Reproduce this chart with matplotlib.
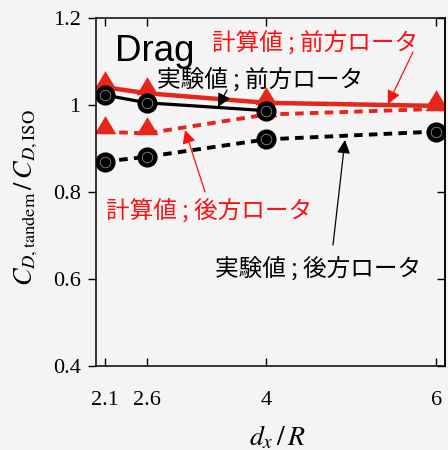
import matplotlib
matplotlib.use("Agg")
import matplotlib.pyplot as plt
from matplotlib.path import Path
import numpy as np

# ---- data ----
x_calc = [2.1, 2.6, 4, 6]
calc_front = [1.041, 1.027, 1.005, 0.998]
calc_rear = [0.938, 0.935, 0.978, 0.991]
x_exp_front = [2.1, 2.6, 4]
exp_front = [1.023, 1.005, 0.987]
x_exp_rear = [2.1, 2.6, 4, 6]
exp_rear = [0.870, 0.881, 0.921, 0.939]

xticks = [2.1, 2.6, 4, 6]
xticklabels = ["2.1", "2.6", "4", "6"]
yticks = [0.4, 0.6, 0.8, 1.0, 1.2]
yticklabels = ["0.4", "0.6", "0.8", "1", "1.2"]

lab_calc_front = "計算値 ; 前方ロータ"
lab_exp_front = "実験値 ; 前方ロータ"
lab_calc_rear = "計算値 ; 後方ロータ"
lab_exp_rear = "実験値 ; 後方ロータ"

plt.rcParams['mathtext.fontset'] = 'stix'
bg = '#f4f4f4'
red = '#e5261b'
red_txt = '#ff1010'

fig = plt.figure(figsize=(4.48, 4.5), dpi=100, facecolor=bg)
ax = fig.add_axes([96/448, 84/450, 349/448, 348/450])
ax.set_facecolor(bg)
ax.set_xlim(2.0, 6.1)
ax.set_ylim(0.4, 1.2)

# triangle marker with base near data point
tri = Path([(-10, -1.6), (10, -1.6), (0, 15), (-10, -1.6)],
           [Path.MOVETO, Path.LINETO, Path.LINETO, Path.CLOSEPOLY])
tri_ms = 23.5

ax.plot(x_calc, calc_front, color=red, lw=3.2, marker=tri, ms=tri_ms,
        mfc=red, mec=red, mew=0, zorder=2)
ax.plot(x_calc, calc_rear, color=red, lw=2.8, ls=(0, (2.2, 1.6)), marker=tri,
        ms=tri_ms, mfc=red, mec=red, mew=0, zorder=2)

circ_ms = 13.5
ax.plot(x_exp_front, exp_front, color='black', lw=2.3, marker='o', ms=circ_ms,
        mfc='black', mec='black', mew=1, zorder=3)
ax.plot(x_exp_rear, exp_rear, color='black', lw=2.8, ls=(0, (2.2, 1.6)),
        marker='o', ms=circ_ms, mfc='black', mec='black', mew=1, zorder=3)
for xs, ys in [(x_exp_front, exp_front), (x_exp_rear, exp_rear)]:
    ax.plot(xs, ys, ls='', marker='o', ms=7.6, mfc='none', mec='#8a8a8a',
            mew=0.6, zorder=4)

# ---- texts & arrows ----
ax.text(2.223, 1.101, "Drag", fontsize=26.5, family='Liberation Sans',
        ha='left', va='baseline', color='black', zorder=5)

jp = ['Noto Sans CJK JP', 'DejaVu Sans']
fs = 17
ax.text(4.573, 1.1437, lab_calc_front, fontsize=fs, family=jp, color=red_txt,
        ha='center', va='center', zorder=5)
ax.text(3.927, 1.0586, lab_exp_front, fontsize=fs, family=jp, color='black',
        ha='center', va='center', zorder=5)
ax.text(3.333, 0.7575, lab_calc_rear, fontsize=fs, family=jp, color=red_txt,
        ha='center', va='center', zorder=5)
ax.text(4.608, 0.624, lab_exp_rear, fontsize=fs, family=jp, color='black',
        ha='center', va='center', zorder=5)

def arrow(x0, y0, x1, y1, c):
    ax.annotate("", xy=(x1, y1), xytext=(x0, y0),
                arrowprops=dict(arrowstyle='-|>', color=c, lw=0.9,
                                mutation_scale=20, shrinkA=0, shrinkB=0),
                zorder=6)

arrow(5.724, 1.1218, 5.430, 1.0023, red_txt)
arrow(3.539, 1.0345, 3.433, 0.9954, 'black')
arrow(3.2805, 0.80, 3.0456, 0.9425, red_txt)
arrow(4.784, 0.678, 4.925, 0.9195, 'black')

# ---- axes styling ----
for s in ax.spines.values():
    s.set_linewidth(1.1)
    s.set_color('black')

ax.set_xticks(xticks)
ax.set_xticklabels(xticklabels, family='Liberation Serif', fontsize=16)
ax.set_yticks(yticks)
ax.set_yticklabels(yticklabels, family='Liberation Serif', fontsize=16)
ax.tick_params(axis='x', direction='in', length=6, width=1, top=True,
               pad=18, colors='black')
ax.tick_params(axis='y', direction='out', length=6, width=1, right=False,
               pad=5, colors='black')
sec = ax.secondary_yaxis('right')
sec.set_yticks(yticks)
sec.tick_params(direction='in', length=6, width=1, labelright=False)
sec.spines['right'].set_linewidth(1.1)

ax.set_ylabel(r"$C_{D,\mathrm{tandem}}\,/\,C_{D,\mathrm{ISO}}$", fontsize=19,
              va='center')
ax.yaxis.set_label_coords(-0.2, 0.483)
ax.set_xlabel(r"$d_x\,/\,R$", fontsize=20, va='center')
ax.xaxis.set_label_coords(0.519, -0.204)

fig.savefig("out.png", dpi=100, facecolor=bg)
